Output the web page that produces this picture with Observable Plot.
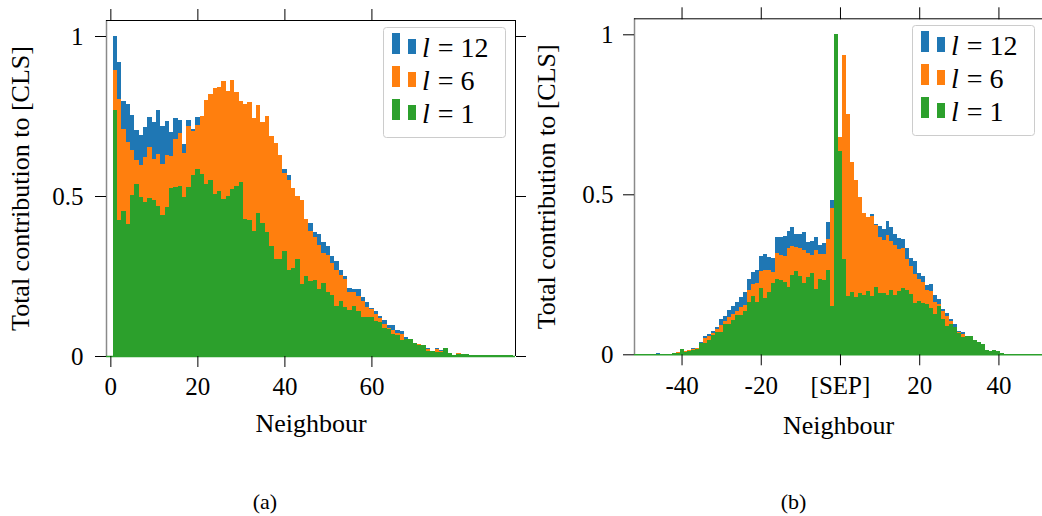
<!DOCTYPE html>
<html><head><meta charset="utf-8">
<script src="https://cdn.jsdelivr.net/npm/d3@7"></script>
<script src="https://cdn.jsdelivr.net/npm/@observablehq/plot@0.6"></script>
<style>
html,body{margin:0;padding:0;background:#fff;}
body{width:1042px;height:516px;position:relative;overflow:hidden;font-family:"Liberation Serif","Times New Roman",Tinos,Times,serif;}
.panel{position:absolute;top:0;width:521px;height:440px;}
#pa{left:0;} #pb{left:521px;}
#overlay{position:absolute;left:0;top:0;pointer-events:none;}
svg text{font-family:"Liberation Serif","Times New Roman",Tinos,Times,serif;}
</style></head><body>
<div id="pa" class="panel"></div>
<div id="pb" class="panel"></div>
<script>
const FONT = "\"Liberation Serif\",\"Times New Roman\",Tinos,Times,serif";
const COLORS = ["#1f77b4", "#ff7f0e", "#2ca02c"];
const SERIES = ["12", "6", "1"];          // layer l
const xLabel = "Neighbour";
const yLabel = "Total contribution to [CLS]";
const captions = ["(a)", "(b)"];
const yTicks = [0, 0.5, 1];
const yTickLabels = ["0", "0.5", "1"];
const xTicksA = [0, 20, 40, 60];
const xTickLabelsA = ["0", "20", "40", "60"];
const xTicksB = [-40, -20, 0, 20, 40];
const xTickLabelsB = ["-40", "-20", "[SEP]", "20", "40"];

// Panel (a): neighbour positions 1..92
const startA = 1;
const blueA = [
 1.000, 0.919, 0.797, 0.788, 0.753, 0.706, 0.691, 0.716, 0.747, 0.731,
 0.769, 0.719, 0.734, 0.700, 0.744, 0.738, 0.663, 0.738, 0.709, 0.747,
 0.740, 0.780, 0.800, 0.820, 0.830, 0.840, 0.810, 0.840, 0.810, 0.780,
 0.770, 0.780, 0.730, 0.770, 0.720, 0.740, 0.680, 0.660, 0.620, 0.584,
 0.566, 0.520, 0.495, 0.480, 0.425, 0.416, 0.388, 0.381, 0.356, 0.344,
 0.313, 0.297, 0.269, 0.250, 0.213, 0.209, 0.209, 0.184, 0.169, 0.150,
 0.141, 0.125, 0.113, 0.097, 0.097, 0.081, 0.078, 0.059, 0.050, 0.040,
 0.034, 0.033, 0.025, 0.016, 0.025, 0.019, 0.020, 0.008, 0.003, 0.006,
 0.005, 0.005, 0.003, 0.003, 0.003, 0.002, 0.001, 0.001, 0.001, 0.001,
 0.001, 0.001];
const orangeA = [
 0.894, 0.803, 0.709, 0.669, 0.644, 0.613, 0.597, 0.622, 0.653, 0.616,
 0.631, 0.600, 0.628, 0.625, 0.678, 0.697, 0.634, 0.719, 0.703, 0.722,
 0.750, 0.800, 0.819, 0.838, 0.841, 0.859, 0.828, 0.863, 0.825, 0.797,
 0.788, 0.794, 0.744, 0.784, 0.731, 0.750, 0.688, 0.666, 0.628, 0.572,
 0.550, 0.525, 0.500, 0.488, 0.428, 0.391, 0.372, 0.347, 0.322, 0.316,
 0.291, 0.269, 0.253, 0.241, 0.200, 0.200, 0.188, 0.172, 0.153, 0.147,
 0.131, 0.119, 0.100, 0.088, 0.081, 0.072, 0.069, 0.053, 0.045, 0.038,
 0.036, 0.034, 0.022, 0.016, 0.022, 0.016, 0.018, 0.007, 0.003, 0.008,
 0.005, 0.005, 0.003, 0.003, 0.003, 0.002, 0.001, 0.001, 0.001, 0.001,
 0.001, 0.001];
const greenA = [
 0.769, 0.425, 0.453, 0.413, 0.503, 0.538, 0.497, 0.481, 0.494, 0.488,
 0.469, 0.441, 0.466, 0.525, 0.528, 0.531, 0.497, 0.528, 0.566, 0.584,
 0.569, 0.538, 0.550, 0.506, 0.516, 0.491, 0.500, 0.522, 0.531, 0.544,
 0.428, 0.425, 0.391, 0.447, 0.416, 0.388, 0.344, 0.303, 0.303, 0.328,
 0.269, 0.275, 0.303, 0.225, 0.250, 0.234, 0.238, 0.209, 0.228, 0.200,
 0.191, 0.156, 0.172, 0.153, 0.144, 0.156, 0.141, 0.122, 0.122, 0.122,
 0.109, 0.106, 0.088, 0.084, 0.069, 0.066, 0.050, 0.053, 0.053, 0.041,
 0.034, 0.034, 0.016, 0.016, 0.013, 0.013, 0.025, 0.009, 0.003, 0.006,
 0.006, 0.006, 0.003, 0.003, 0.003, 0.003, 0.002, 0.002, 0.002, 0.002,
 0.002, 0.002];

// Panel (b): positions -50..50 relative to [SEP]
const startB = -50;
const blueB = [
 0.001, 0.001, 0.001, 0.001, 0.004,
 0.001, 0.001, 0.002, 0.003, 0.005,
 0.012, 0.010, 0.014, 0.020, 0.020,
 0.039, 0.057, 0.064, 0.073, 0.085,
 0.110, 0.120, 0.139, 0.151, 0.164,
 0.179, 0.195, 0.235, 0.257, 0.264,
 0.307, 0.314, 0.304, 0.301, 0.367,
 0.367, 0.370, 0.385, 0.398, 0.376,
 0.376, 0.382, 0.351, 0.354, 0.367,
 0.342, 0.348, 0.414, 0.482, 0.550,
 0.660, 0.920, 0.740, 0.590, 0.535,
 0.485, 0.435, 0.425, 0.439, 0.407,
 0.401, 0.392, 0.417, 0.398, 0.376,
 0.364, 0.360, 0.332, 0.301, 0.292,
 0.254, 0.245, 0.217, 0.220, 0.185,
 0.173, 0.142, 0.129, 0.110, 0.095,
 0.073, 0.070, 0.057, 0.050, 0.040,
 0.030, 0.025, 0.012, 0.009, 0.010,
 0.008, 0.003, 0.001, 0.001, 0.001,
 0.001, 0.001, 0.001, 0.001, 0.001,
 0.001];
const orangeB = [
 0.001, 0.001, 0.001, 0.001, 0.001,
 0.001, 0.001, 0.001, 0.003, 0.007,
 0.010, 0.010, 0.014, 0.017, 0.020,
 0.036, 0.051, 0.057, 0.067, 0.079,
 0.092, 0.104, 0.117, 0.126, 0.135,
 0.148, 0.154, 0.201, 0.220, 0.223,
 0.260, 0.264, 0.264, 0.257, 0.317,
 0.310, 0.307, 0.332, 0.339, 0.335,
 0.332, 0.326, 0.317, 0.310, 0.326,
 0.314, 0.314, 0.360, 0.457, 0.520,
 0.679, 0.935, 0.751, 0.601, 0.545,
 0.492, 0.442, 0.429, 0.432, 0.404,
 0.367, 0.357, 0.373, 0.354, 0.342,
 0.330, 0.332, 0.298, 0.276, 0.251,
 0.235, 0.226, 0.201, 0.198, 0.164,
 0.157, 0.135, 0.120, 0.104, 0.085,
 0.070, 0.064, 0.054, 0.045, 0.036,
 0.028, 0.022, 0.011, 0.008, 0.009,
 0.007, 0.003, 0.001, 0.001, 0.001,
 0.001, 0.001, 0.001, 0.001, 0.001,
 0.001];
const greenB = [
 0.002, 0.002, 0.002, 0.002, 0.002,
 0.002, 0.002, 0.002, 0.004, 0.004,
 0.017, 0.007, 0.010, 0.014, 0.017,
 0.035, 0.035, 0.046, 0.060, 0.070,
 0.071, 0.095, 0.095, 0.107, 0.124,
 0.124, 0.135, 0.164, 0.182, 0.164,
 0.207, 0.176, 0.195, 0.223, 0.235,
 0.232, 0.226, 0.210, 0.248, 0.260,
 0.245, 0.223, 0.242, 0.254, 0.204,
 0.235, 0.232, 0.264, 0.151, 1.000,
 0.635, 0.298, 0.182, 0.195, 0.179,
 0.192, 0.185, 0.198, 0.182, 0.210,
 0.192, 0.192, 0.185, 0.201, 0.185,
 0.198, 0.207, 0.201, 0.189, 0.160,
 0.167, 0.160, 0.157, 0.145, 0.126,
 0.151, 0.110, 0.089, 0.095, 0.085,
 0.067, 0.054, 0.057, 0.057, 0.045,
 0.039, 0.032, 0.014, 0.010, 0.014,
 0.010, 0.004, 0.002, 0.002, 0.002,
 0.002, 0.002, 0.002, 0.002, 0.002,
 0.002];

function panel(cfg) {
  const toRows = vals => vals.map((v, i) => ({pos: cfg.start + i, v}));
  const xFmt = new Map(cfg.xTicks.map((t, i) => [t, cfg.xLabels[i]]));
  const yFmt = new Map(yTicks.map((t, i) => [t, yTickLabels[i]]));
  const bars = [cfg.blue, cfg.orange, cfg.green].map((vals, k) =>
    Plot.rect(toRows(vals), {
      x1: d => d.pos - 0.5, x2: d => d.pos + 0.5,
      y1: d => 0, y2: d => d.v,
      fill: COLORS[k], shapeRendering: "crispEdges"
    }));
  const marks = [
    ...bars,
    Plot.ruleX([cfg.xDomain[0]], {stroke: "#8a8a8a", strokeWidth: 1.5}),
    Plot.ruleX([cfg.xDomain[1]], {stroke: cfg.rightStroke, strokeWidth: 1}),
    Plot.ruleY([1.05], {stroke: "#000", strokeWidth: 1}),
    Plot.ruleY([0], {stroke: COLORS[2], strokeWidth: 1.5}),
    Plot.axisX(cfg.xTicks, {anchor: "bottom", tickSize: 11, tickPadding: 10, fontSize: 25,
      tickFormat: d => xFmt.get(d), label: null}),
    Plot.axisX(cfg.xTicks, {anchor: "top", tickSize: 12, tickFormat: () => "", label: null}),
    Plot.axisY(yTicks, {anchor: "left", tickSize: 11, tickPadding: cfg.yPad, fontSize: 25,
      tickFormat: d => yFmt.get(d), label: null}),
    Plot.text([xLabel], {text: d => d, frameAnchor: "bottom", textAnchor: "middle", lineAnchor: "middle",
      dy: cfg.xLabelDy, fontSize: 26}),
    Plot.text([yLabel], {text: d => d, frameAnchor: "left", textAnchor: "middle", lineAnchor: "middle",
      dx: cfg.yLabelDx, rotate: -90, fontSize: 26})
  ];
  if (cfg.rightTicks) marks.push(Plot.axisY(yTicks, {anchor: "right", tickSize: 10, tickFormat: () => "", label: null}));
  return Plot.plot({
    width: 521, height: 440,
    marginLeft: cfg.ml, marginRight: cfg.mr, marginTop: cfg.mt, marginBottom: 440 - cfg.bottom,
    x: {domain: cfg.xDomain},
    y: {domain: [0, 1.05]},
    style: {fontFamily: FONT, background: "transparent", overflow: "visible", color: "#000"},
    marks
  });
}

document.getElementById("pa").appendChild(panel({
  start: startA, blue: blueA, orange: orangeA, green: greenA,
  xDomain: [-1, 93], xTicks: xTicksA, xLabels: xTickLabelsA,
  ml: 106, mr: 6, mt: 20, bottom: 356, yPad: 12,
  xLabelDy: 67.5, yLabelDx: -86, rightStroke: "#000", rightTicks: true
}));
document.getElementById("pb").appendChild(panel({
  start: startB, blue: blueB, orange: orangeB, green: greenB,
  xDomain: [-52, 51], xTicks: xTicksB, xLabels: xTickLabelsB,
  ml: 113, mr: 0, mt: 18.3, bottom: 354.3, yPad: 10,
  xLabelDy: 70.7, yLabelDx: -87.4, rightStroke: "#bbbbbb", rightTicks: false
}));

// Legends and captions
const overlay = d3.select("body").append("svg").attr("id", "overlay")
  .attr("width", 1042).attr("height", 516);
function legend(bx, by) {
  const g = overlay.append("g").attr("font-family", FONT);
  g.append("rect").attr("x", bx + 0.5).attr("y", by + 0.5).attr("width", 122).attr("height", 110)
    .attr("rx", 3).attr("fill", "#fff").attr("stroke", "#cccccc");
  SERIES.forEach((s, i) => {
    const base = by + 30 + i * 33;
    g.append("rect").attr("x", bx + 9).attr("y", base - 24).attr("width", 8).attr("height", 21).attr("fill", COLORS[i]);
    g.append("rect").attr("x", bx + 25).attr("y", base - 18).attr("width", 8).attr("height", 15).attr("fill", COLORS[i]);
    const t = g.append("text").attr("x", bx + 39).attr("y", base).attr("font-size", 28).attr("fill", "#000");
    t.append("tspan").attr("font-style", "italic").text("l");
    t.append("tspan").attr("dx", 8).text("=");
    t.append("tspan").attr("dx", 7).text(s);
  });
}
legend(383, 27);
legend(912, 25);
[[265, captions[0]], [793.5, captions[1]]].forEach(([cx, txt]) => {
  overlay.append("text").attr("x", cx).attr("y", 509).attr("text-anchor", "middle")
    .attr("font-family", FONT).attr("font-size", 22).attr("fill", "#000").text(txt);
});
</script>
</body></html>
